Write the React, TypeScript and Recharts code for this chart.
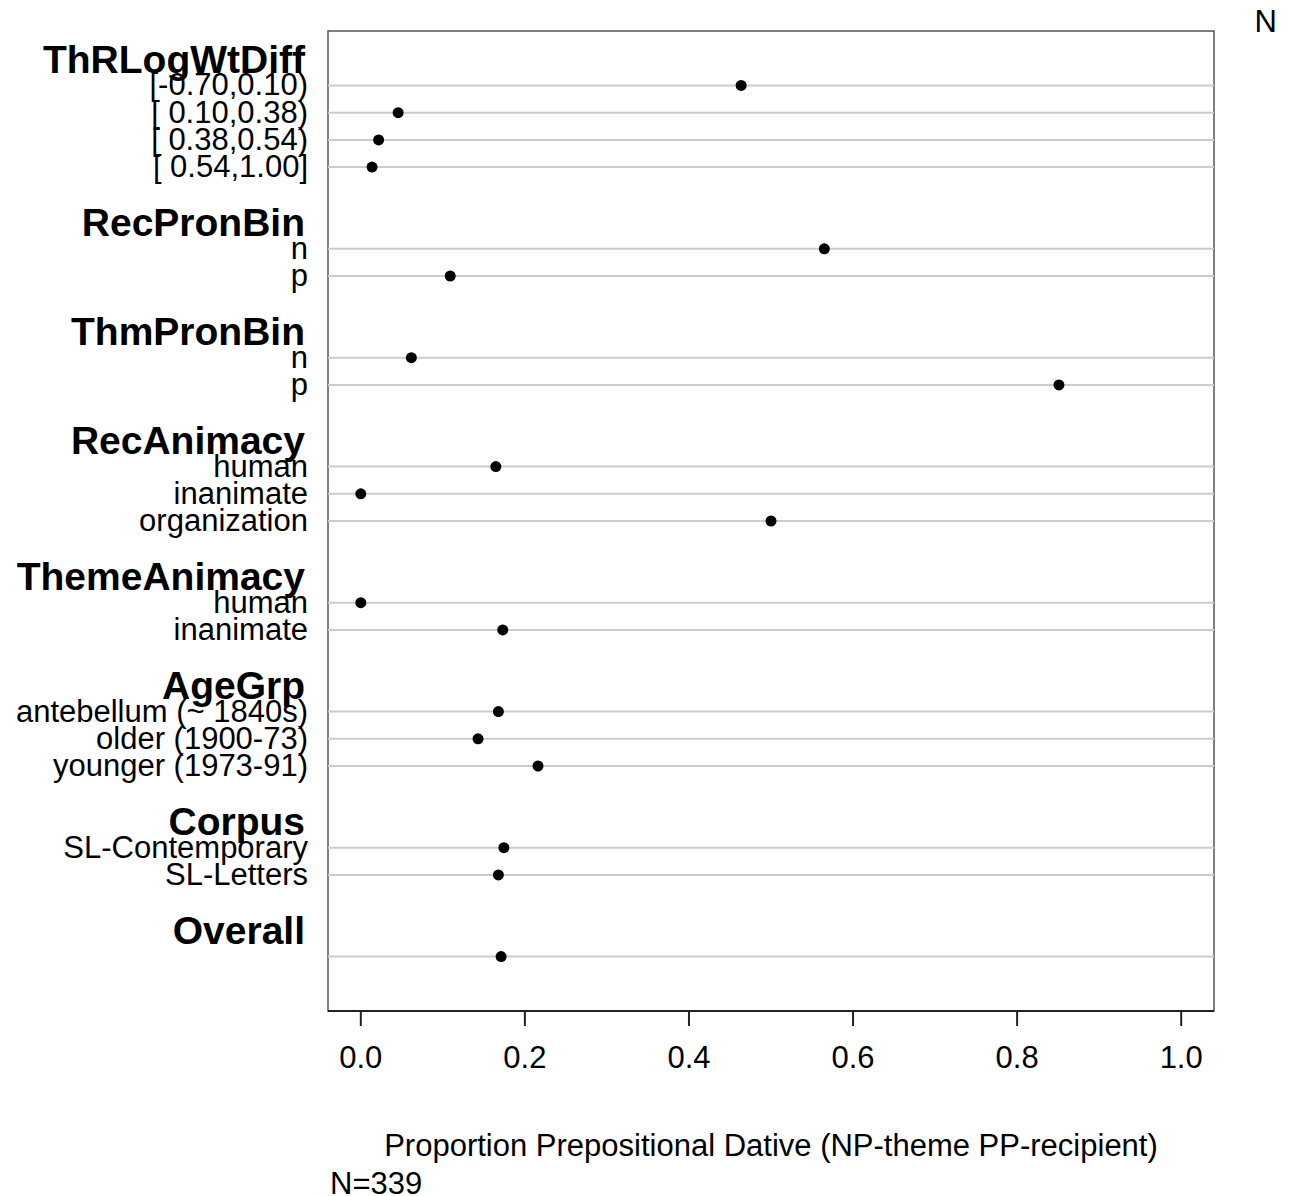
import React from "react";
import {
  ScatterChart, Scatter, XAxis, YAxis, ReferenceLine, ReferenceArea,
} from "recharts";

// dot chart: proportion of prepositional datives by predictor level
const groups = [
  "ThRLogWtDiff", "RecPronBin", "ThmPronBin", "RecAnimacy",
  "ThemeAnimacy", "AgeGrp", "Corpus", "Overall",
];
const levels = [
  ["[-0.70,0.10)", "[ 0.10,0.38)", "[ 0.38,0.54)", "[ 0.54,1.00]"],
  ["n", "p"],
  ["n", "p"],
  ["human", "inanimate", "organization"],
  ["human", "inanimate"],
  ["antebellum (~ 1840s)", "older (1900-73)", "younger (1973-91)"],
  ["SL-Contemporary", "SL-Letters"],
  [""],
];
const proportions = [
  [0.4636, 0.0455, 0.0217, 0.0137],
  [0.565, 0.109],
  [0.0616, 0.851],
  [0.1646, 0, 0.5],
  [0, 0.173],
  [0.1677, 0.1429, 0.216],
  [0.1744, 0.1677],
  [0.171],
];
const counts = [
  [110, 110, 46, 73],
  [46, 293],
  [292, 47],
  [328, 3, 8],
  [4, 335],
  [167, 98, 74],
  [172, 167],
  [339],
];
const xTicks = [0, 0.2, 0.4, 0.6, 0.8, 1.0];
const totalN = 339;
const xTitle = "Proportion Prepositional Dative (NP-theme PP-recipient)";

const FONT = "'Liberation Sans', Arial, Helvetica, sans-serif";

// rows: header, levels, blank spacer
type Row = { row: number; label: string; header: boolean; x?: number; n?: number };
const rows: Row[] = [];
let r = 0;
groups.forEach((g, gi) => {
  rows.push({ row: r++, label: g, header: true });
  levels[gi].forEach((lv, li) => {
    rows.push({ row: r++, label: lv, header: false, x: proportions[gi][li], n: counts[gi][li] });
  });
  r++;
});
const yMax = r; // one extra row of padding below the last spacer
const dataRows = rows.filter((d) => !d.header);
const points = dataRows.map((d) => ({ x: d.x, y: d.row, n: d.n }));
const rowMap = new Map(rows.map((d) => [d.row, d]));

const LeftTick = ({ x, y, payload }: any) => {
  const d = rowMap.get(payload.value);
  if (!d) return null;
  if (d.header) {
    return (
      <text x={x - 23} y={y + 14.5} textAnchor="end" fontFamily={FONT}
        fontSize={39} fontWeight="bold" fill="#000">{d.label}</text>
    );
  }
  return (
    <text x={x - 20} y={y + 10} textAnchor="end" fontFamily={FONT}
      fontSize={31} fill="#000">{d.label}</text>
  );
};

const RightTick = ({ x, y, payload }: any) => {
  const d = rowMap.get(payload.value);
  if (!d || d.header) return null;
  return (
    <text x={x + 64} y={y + 10.5} textAnchor="end" fontFamily={FONT}
      fontSize={31} fill="#000">{d.n}</text>
  );
};

const Dot = (p: any) => <circle cx={p.cx} cy={p.cy} r={5.5} fill="#000" />;

export default function App() {
  return (
    <div style={{ width: 1285, height: 1188 }}>
      <ScatterChart width={1285} height={1188}
        margin={{ top: 23, right: 0, bottom: 125, left: 0 }}>
        <XAxis
          type="number" dataKey="x" domain={[-0.04, 1.04]} ticks={xTicks}
          tickFormatter={(v: number) => v.toFixed(1)}
          height={60} tickSize={15} tickMargin={20}
          axisLine={{ stroke: "#222", strokeWidth: 2 }}
          tickLine={{ stroke: "#222", strokeWidth: 2 }}
          tick={{ fontSize: 31, fill: "#000", fontFamily: FONT }}
          label={{
            content: (props: any) => {
              const vb = props.viewBox || { x: 320, y: 1003, width: 886 };
              return (
                <g fontFamily={FONT} fontSize={31} fill="#000">
                  <text x={vb.x + vb.width / 2} y={vb.y + 145} textAnchor="middle">{xTitle}</text>
                  <text x={vb.x + 2} y={vb.y + 183} textAnchor="start">{`N=${totalN}`}</text>
                </g>
              );
            },
          }}
        />
        <YAxis
          yAxisId="left" type="number" dataKey="y" domain={[-1, yMax]} reversed
          ticks={rows.map((d) => d.row)} interval={0} width={320}
          tickSize={0} tickMargin={0} axisLine={false} tickLine={false}
          tick={<LeftTick />}
        />
        <YAxis
          yAxisId="right" orientation="right" type="number" domain={[-1, yMax]} reversed
          ticks={dataRows.map((d) => d.row)} interval={0} width={79}
          tickSize={0} tickMargin={0} axisLine={false} tickLine={false}
          tick={<RightTick />}
          label={{
            content: (props: any) => {
              const vb = props.viewBox || { x: 1206, y: 23 };
              return (
                <text x={vb.x + 63} y={vb.y + 1} textAnchor="end" fontFamily={FONT}
                  fontSize={31} fill="#000">N</text>
              );
            },
          }}
        />
        <ReferenceArea yAxisId="left" x1={-0.04} x2={1.04} y1={-1} y2={yMax}
          fill="none" stroke="#555" strokeWidth={1.5} ifOverflow="visible" />
        {dataRows.map((d) => (
          <ReferenceLine key={d.row} yAxisId="left" y={d.row} stroke="#cccccc" strokeWidth={2} />
        ))}
        <Scatter yAxisId="left" data={points} shape={<Dot />} isAnimationActive={false} />
      </ScatterChart>
    </div>
  );
}
